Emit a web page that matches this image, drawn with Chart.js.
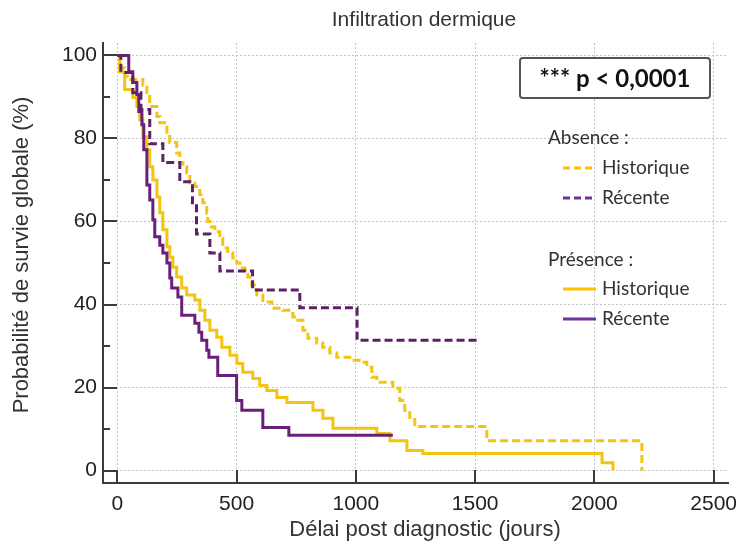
<!DOCTYPE html>
<html><head><meta charset="utf-8">
<script src="https://cdn.jsdelivr.net/npm/chart.js@4.4.0/dist/chart.umd.min.js"></script>
<style>html,body{margin:0;padding:0;background:#fff}canvas{display:block}</style>
</head><body>
<canvas id="c" width="739" height="546"></canvas>
<script>
// ---- texts & ticks ----
const chartTitle = 'Infiltration dermique';
const xAxisTitle = 'Délai post diagnostic (jours)';
const yAxisTitle = 'Probabilité de survie globale (%)';
const xTickValues = [0, 500, 1000, 1500, 2000, 2500];
const yTickValues = [0, 20, 40, 60, 80, 100];
const yMinorTickValues = [10, 30, 50, 70, 90];
const pValueText = '*** p < 0,0001';
const groupAbsence = 'Absence :';
const groupPresence = 'Présence :';
const nameHist = 'Historique';
const nameRec = 'Récente';

// ---- series (day, survival %) ----
const absHistDays = [0,10,31,44,107,124,136,166,178,208,220,249,262,275,291,304,325,346,358,375,379,388,409,430,442,463,484,501,514,535,547,564,585,610,648,694,736,757,778,799,836,861,891,920,975,1025,1046,1067,1088,1155,1184,1205,1226,1247,1549,2199];
const absHistSurv = [100,97,95,94.2,92.8,91,87.7,85.3,83.8,80.5,79,76.5,74.2,73.2,71.7,69.3,68.4,66.5,64.5,62,60,58.7,57.5,56,53.6,52.4,51.2,50,48.8,48.3,46.6,44.7,42.3,40.6,39.1,38.6,37,36.2,33.8,31.9,30.7,29.7,28.3,27.3,26.6,26.1,24.9,22.5,21.3,19.8,16.9,14.5,12.8,10.6,7.2,0];

const absRecDays = [0,15,65,99,136,191,262,315,332,388,430,567,765,1005,1520];
const absRecSurv = [100,95.9,91,87,78.7,74.2,69.6,64.5,57,52.4,48.1,43.5,39.2,31.4,31.4];

const presHistDays = [0,10,31,65,82,94,107,124,136,149,166,178,191,208,220,233,249,270,291,325,346,367,388,417,438,472,501,526,568,597,627,669,711,820,862,904,1088,1143,1214,1281,2032,2078];
const presHistSurv = [100,96,91.8,89.9,87.7,84.5,80.4,77.3,73.2,70,65.9,62.1,58,53.9,51.4,49,46.6,44,42.3,41.1,38.6,36.2,33.8,32.1,29.7,27.8,25.8,23.7,22.2,20.5,19.3,17.6,16.4,14.5,12.6,10.2,8.9,7.2,4.8,4.1,1.9,0];

const presRecDays = [0,48,65,82,90,103,111,124,136,149,157,178,191,208,220,228,254,270,325,342,354,375,384,421,500,522,610,719,1155];
const presRecSurv = [100,96.1,93.5,90.6,86.5,83.3,77.3,68.8,65.2,60.4,56.3,54.3,52.4,50,46.4,44,41.8,37.4,35.5,33.3,31.4,29,27.3,22.9,16.9,14.5,10.4,8.5,8.5];

// ---- colours ----
const yellowCurve = '#F3C412';
const purpleCurve = '#68207A';
const purpleDashCurve = '#5E2066';
const yellowLegend = '#FFC000';
const purpleLegend = '#7030A0';
const textColor = '#333333';

const pts = (d, s) => d.map((v, i) => ({x: v, y: s[i]}));

function ds(label, d, s, color, dashed, order) {
  return {
    label, data: pts(d, s), borderColor: color, backgroundColor: color,
    borderWidth: 3, borderDash: dashed ? [8, 4] : [], stepped: 'before',
    pointRadius: 0, tension: 0, fill: false, order,
    borderCapStyle: 'butt', borderJoinStyle: 'miter'
  };
}

const overlay = {
  id: 'overlay',
  beforeDatasetsDraw(chart) {
    const ctx = chart.ctx, xs = chart.scales.x, ys = chart.scales.y, a = chart.chartArea;
    ctx.save();
    ctx.strokeStyle = '#3a3a3a';
    ctx.lineWidth = 2;
    ctx.beginPath();
    yTickValues.forEach(v => { const p = Math.round(ys.getPixelForValue(v)); ctx.moveTo(a.left, p); ctx.lineTo(a.left + 14, p); });
    yMinorTickValues.forEach(v => { const p = Math.round(ys.getPixelForValue(v)); ctx.moveTo(a.left, p); ctx.lineTo(a.left + 7, p); });
    xTickValues.forEach(v => { const p = Math.round(xs.getPixelForValue(v)); ctx.moveTo(p, a.bottom); ctx.lineTo(p, a.bottom - 13); });
    ctx.stroke();
    ctx.restore();
  },
  afterDraw(chart) {
    const ctx = chart.ctx;
    ctx.save();
    // titles
    ctx.fillStyle = textColor;
    ctx.textAlign = 'center';
    ctx.textBaseline = 'middle';
    ctx.font = '21px "Liberation Sans", Arial, sans-serif';
    ctx.fillText(chartTitle, 424, 20);
    ctx.font = '22px "Liberation Sans", Arial, sans-serif';
    ctx.fillText(xAxisTitle, 425, 530);
    ctx.save();
    ctx.translate(22, 255);
    ctx.rotate(-Math.PI / 2);
    ctx.fillText(yAxisTitle, 0, 0);
    ctx.restore();

    // p-value box
    ctx.fillStyle = '#ffffff';
    ctx.strokeStyle = '#555555';
    ctx.lineWidth = 2;
    ctx.beginPath();
    ctx.roundRect(520, 58, 190, 40, 3);
    ctx.fill();
    ctx.stroke();
    ctx.fillStyle = '#111111';
    ctx.font = 'bold 24px Lato, "Open Sans", sans-serif';
    ctx.textAlign = 'center';
    ctx.fillText(pValueText, 615, 79);

    // legend
    ctx.textAlign = 'left';
    ctx.fillStyle = textColor;
    ctx.font = '19px Lato, "Open Sans", sans-serif';
    ctx.fillText(groupAbsence, 548, 138);
    ctx.fillText(groupPresence, 548, 260);
    const items = [
      [168, yellowLegend, true, nameHist],
      [198, purpleLegend, true, nameRec],
      [289, yellowLegend, false, nameHist],
      [319, purpleLegend, false, nameRec]
    ];
    items.forEach(([y, c, dashed, t]) => {
      ctx.strokeStyle = c;
      ctx.lineWidth = 3;
      ctx.setLineDash(dashed ? [7, 4] : []);
      ctx.beginPath();
      ctx.moveTo(563, y); ctx.lineTo(dashed ? 594 : 596, y);
      ctx.stroke();
      ctx.setLineDash([]);
      ctx.fillStyle = textColor;
      ctx.fillText(t, 602, y);
    });
    ctx.restore();
  }
};

const tickFont = { family: '"Liberation Sans", Arial, sans-serif', size: 21 };

new Chart(document.getElementById('c'), {
  type: 'line',
  data: {
    datasets: [
      ds('Absence – ' + nameRec, absRecDays, absRecSurv, purpleDashCurve, true, 1),
      ds('Présence – ' + nameRec, presRecDays, presRecSurv, purpleCurve, false, 2),
      ds('Absence – ' + nameHist, absHistDays, absHistSurv, yellowCurve, true, 3),
      ds('Présence – ' + nameHist, presHistDays, presHistSurv, yellowCurve, false, 4)
    ]
  },
  options: {
    responsive: false,
    animation: false,
    layout: { padding: { left: 0, top: 43, right: 11, bottom: 0 } },
    plugins: { legend: { display: false }, title: { display: false }, tooltip: { enabled: false } },
    scales: {
      x: {
        type: 'linear', min: -60, max: 2560,
        afterFit: s => { s.height = 63; s.paddingLeft = 0; s.paddingRight = 0; },
        afterBuildTicks: s => { s.ticks = xTickValues.map(v => ({value: v})); },
        grid: { color: '#c4c4c4', lineWidth: 1, drawTicks: false },
        border: { display: true, color: '#3a3a3a', width: 2, dash: [2, 2] },
        ticks: { color: '#222', font: tickFont, padding: 9, maxRotation: 0, callback: v => String(v) }
      },
      y: {
        type: 'linear', min: -3, max: 103,
        afterFit: s => { s.width = 103; s.paddingTop = 0; s.paddingBottom = 0; },
        afterBuildTicks: s => { s.ticks = yTickValues.map(v => ({value: v})); },
        grid: { color: '#c4c4c4', lineWidth: 1, drawTicks: false },
        border: { display: true, color: '#3a3a3a', width: 2, dash: [2, 2] },
        ticks: { color: '#222', font: tickFont, padding: 6, callback: v => String(v) }
      }
    }
  },
  plugins: [overlay]
});
</script>
</body></html>
